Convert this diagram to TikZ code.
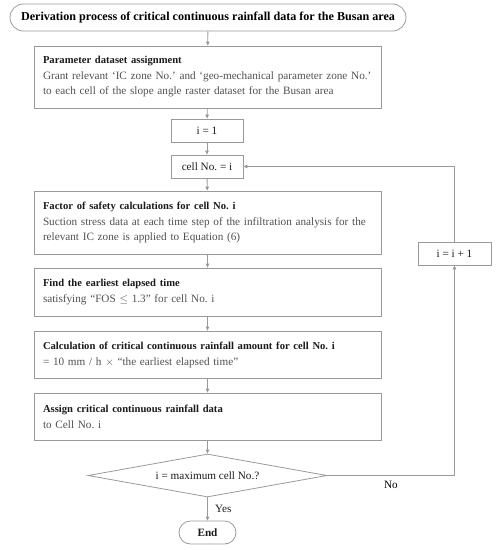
\documentclass[tikz,border=0pt]{standalone}
\usepackage{fontspec}
\setmainfont{Liberation Serif}
\usetikzlibrary{shapes.geometric,arrows.meta}
\definecolor{linegray}{HTML}{9A9A9A}
\definecolor{arrgray}{HTML}{8A8A8A}
\definecolor{bodygray}{HTML}{505050}
\definecolor{headblack}{HTML}{1A1A1A}
\frenchspacing
\tikzset{
  base/.style={draw=linegray, line width=0.8pt, inner sep=0pt},
  procbox/.style={base, text width=329pt, inner xsep=9pt, align=left, minimum height=#1, font=\fontsize{11.2}{15}\selectfont, text=bodygray},
  smallbox/.style={base, minimum width=72pt, minimum height=23pt, font=\fontsize{11.2}{13}\selectfont, text=headblack},
  flowarrow/.style={draw=linegray, line width=0.8pt, -{Triangle[width=3.5pt,length=4pt,fill=arrgray]}},
  lbl/.style={font=\fontsize{11.2}{13}\selectfont}
}
\newcommand{\hd}[1]{{\fontsize{10.6}{15}\selectfont\bfseries\color{headblack}#1}}
\begin{document}
\begin{tikzpicture}[x=1pt,y=-1pt]
\useasboundingbox (0,0) rectangle (497,550);
\node[base, rounded corners=13.5pt, minimum width=396pt, minimum height=27pt, font=\fontsize{12.1}{13}\selectfont\bfseries, text=black] (title) at (208,17.5) {Derivation process of critical continuous rainfall data for the Busan area};
\node[procbox=62pt] (assignp) at (207.5,77) {\hd{Parameter dataset assignment}\\[1pt]\mbox{Grant relevant `IC zone No.' and `geo-mechanical parameter zone No.'}\\to each cell of the slope angle raster dataset for the Busan area};
\node[smallbox] (ione) at (207,130.5) {i = 1};
\node[smallbox] (cell) at (207,166.5) {cell No. = i};
\node[procbox=63pt] (fos) at (207.5,222.5) {\hd{Factor of safety calculations for cell No. i}\\[1pt]\mbox{Suction stress data at each time step of the infiltration analysis for the}\\relevant IC zone is applied to Equation (6)};
\node[procbox=48pt] (find) at (207.5,292) {\hd{Find the earliest elapsed time}\\[1pt]satisfying ``FOS $\leq$ 1.3'' for cell No. i};
\node[procbox=47pt] (calc) at (207.5,354.5) {\hd{Calculation of critical continuous rainfall amount for cell No. i}\\[1pt]= 10 mm / h $\times$ ``the earliest elapsed time''};
\node[procbox=47pt] (assign) at (207.5,416.5) {\hd{Assign critical continuous rainfall data}\\[1pt]to Cell No. i};
\node[base, diamond, aspect=5.5, minimum width=239pt, minimum height=43pt, lbl, text=headblack] (dia) at (207.5,475.5) {i = maximum cell No.?};
\node[base, rounded corners=11.5pt, minimum width=57pt, minimum height=23pt, font=\fontsize{11.2}{13}\selectfont\bfseries, text=headblack] (end) at (207.5,532.5) {End};
\node[smallbox, minimum width=73pt] (inc) at (454.5,253.5) {i = i + 1};
\draw[flowarrow] (title) -- (assignp);
\draw[flowarrow] (assignp) -- (ione);
\draw[flowarrow] (ione) -- (cell);
\draw[flowarrow] (cell) -- (fos);
\draw[flowarrow] (fos) -- (find);
\draw[flowarrow] (find) -- (calc);
\draw[flowarrow] (calc) -- (assign);
\draw[flowarrow] (assign) -- (dia);
\draw[flowarrow] (dia) -- node[right, xshift=4pt, lbl, text=headblack] {Yes} (end);
\draw[flowarrow] (dia.east) -| node[pos=0.25, below, yshift=-2pt, lbl, text=black] {No} (inc.south);
\draw[flowarrow] (inc.north) |- (cell.east);
\end{tikzpicture}
\end{document}
